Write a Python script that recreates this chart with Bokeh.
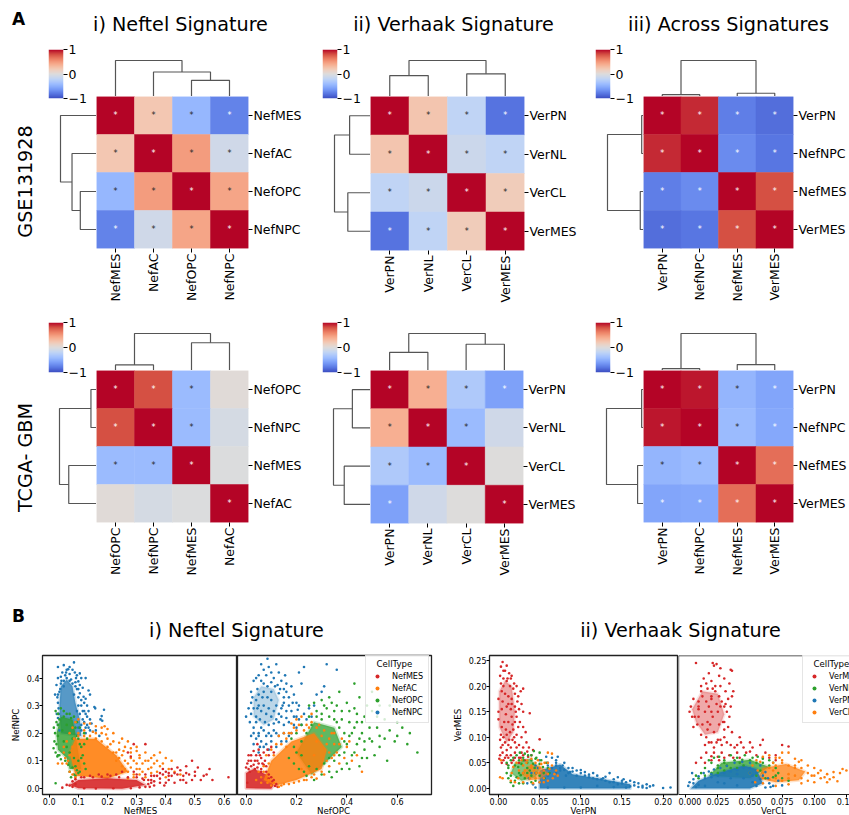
import numpy as np
from math import pi
from bokeh.plotting import figure
from bokeh.layouts import column, row
from bokeh.models import (FactorRange, Range1d, ColumnDataSource, LinearColorMapper, FixedTicker,
                          NumeralTickFormatter, Legend, LegendItem, Span)
from bokeh.transform import transform
from bokeh.core.properties import value
from bokeh.embed import file_html
from bokeh.resources import INLINE

FONT = "DejaVu Sans"

# ---------- heatmap data ----------
LABELS_A1 = ["NefMES", "NefAC", "NefOPC", "NefNPC"]
VALUES_A1 = [[1, .22, -.44, -.74], [.22, 1, .48, -.10], [-.44, .48, 1, .43], [-.74, -.10, .43, 1]]
SIG_A1 = [[1, 1, 1, 1], [1, 1, 1, 1], [1, 1, 1, 1], [1, 1, 1, 1]]
TREE_A1 = [(2.5, 0, 3.5, 0, .45), (1.5, 0, 3.0, .45, .68), (.5, 0, 2.25, .68, 1)]

LABELS_A2 = ["VerPN", "VerNL", "VerCL", "VerMES"]
VALUES_A2 = [[1, .24, -.20, -.82], [.24, 1, -.12, -.20], [-.20, -.12, 1, .18], [-.82, -.20, .18, 1]]
SIG_A2 = [[1, 1, 1, 1], [1, 1, 1, 1], [1, 1, 1, 1], [1, 1, 1, 1]]
TREE_A2 = [(.5, 0, 1.5, 0, .58), (2.5, 0, 3.5, 0, .63), (1.0, .58, 3.0, .63, 1)]

LABELS_A3 = ["VerPN", "NefNPC", "NefMES", "VerMES"]
VALUES_A3 = [[1, .90, -.76, -.84], [.90, 1, -.70, -.80], [-.76, -.70, 1, .80], [-.84, -.80, .80, 1]]
SIG_A3 = [[1, 1, 1, 1], [1, 1, 1, 1], [1, 1, 1, 1], [1, 1, 1, 1]]
TREE_A3 = [(.5, 0, 1.5, 0, .05), (2.5, 0, 3.5, 0, .09), (1.0, .05, 3.0, .09, 1)]

LABELS_B1 = ["NefOPC", "NefNPC", "NefMES", "NefAC"]
VALUES_B1 = [[1, .80, -.42, .03], [.80, 1, -.42, -.06], [-.42, -.42, 1, -.01], [.03, -.06, -.01, 1]]
SIG_B1 = [[1, 1, 1, 0], [1, 1, 1, 0], [1, 1, 1, 0], [0, 0, 0, 1]]
TREE_B1 = [(.5, 0, 1.5, 0, .15), (2.5, 0, 3.5, 0, .75), (1.0, .15, 3.0, .75, 1)]

LABELS_B2 = ["VerPN", "VerNL", "VerCL", "VerMES"]
VALUES_B2 = [[1, .38, -.30, -.58], [.38, 1, -.42, -.10], [-.30, -.42, 1, 0], [-.58, -.10, 0, 1]]
SIG_B2 = [[1, 1, 1, 1], [1, 1, 1, 0], [1, 1, 1, 0], [1, 0, 0, 1]]
TREE_B2 = [(.5, 0, 1.5, 0, .49), (2.5, 0, 3.5, 0, .71), (1.0, .49, 3.0, .71, 1)]

LABELS_B3 = ["VerPN", "NefNPC", "NefMES", "VerMES"]
VALUES_B3 = [[1, .95, -.46, -.56], [.95, 1, -.42, -.54], [-.46, -.42, 1, .68], [-.56, -.54, .68, 1]]
SIG_B3 = [[1, 1, 1, 1], [1, 1, 1, 1], [1, 1, 1, 1], [1, 1, 1, 1]]
TREE_B3 = [(.5, 0, 1.5, 0, .05), (2.5, 0, 3.5, 0, .16), (1.0, .05, 3.0, .16, 1)]

COLUMN_TITLES = ["i) Neftel Signature", "ii) Verhaak Signature", "iii) Across Signatures"]
BOTTOM_TITLES = ["i) Neftel Signature", "ii) Verhaak Signature"]
ROW_TITLES = ["GSE131928", "TCGA- GBM"]

RED, ORANGE, GREEN, BLUE = "#d62728", "#ff7f0e", "#2ca02c", "#1f77b4"

# ---------- scatter data ----------
# dense cores are traced outlines, sparse points are read one by one
P1_NPC_CORE = [(.04, .2), (.035, .3), (.04, .37), (.06, .395), (.08, .37), (.09, .31), (.105, .25), (.11, .19)]
P1_NPC = [(.02, .34), (.03, .44), (.05, .447), (.085, .457), (.06, .43), (.065, .432), (.07, .415), (.088, .42), (.105, .417), (.11, .40), (.125, .40), (.1, .388), (.115, .365), (.135, .355), (.14, .34), (.118, .332), (.155, .295), (.158, .29), (.188, .285), (.18, .262), (.176, .25), (.182, .245), (.13, .30), (.14, .25), (.135, .22), (.15, .205), (.16, .21), (.172, .19), (.03, .4), (.025, .375), (.04, .405), (.045, .42), (.055, .41), (.075, .395), (.09, .385), (.095, .36), (.105, .345), (.11, .32), (.12, .31), (.115, .28), (.125, .27), (.1, .33), (.028, .33), (.03, .31), (.032, .29), (.035, .35), (.05, .39), (.092, .40), (.07, .44), (.12, .24), (.125, .22), (.115, .25), (.13, .26), (.145, .235), (.03, .255), (.026, .27),
          (.04, .38), (.05, .37), (.06, .40), (.07, .39), (.08, .38), (.09, .37), (.1, .36), (.085, .34), (.1, .3), (.11, .3), (.095, .28), (.105, .27), (.11, .23), (.1, .22), (.12, .28), (.038, .36), (.03, .34), (.033, .27), (.03, .23), (.035, .21), (.13, .23), (.14, .21), (.125, .2), (.11, .21), (.095, .41), (.08, .43), (.058, .42), (.042, .39), (.135, .28), (.125, .325), (.105, .375)]
P1_OPC_CORE = [(.03, .14), (.025, .2), (.04, .26), (.08, .25), (.09, .2), (.1, .13), (.11, .07), (.07, .07), (.06, .11)]
P1_OPC = [(.018, .17), (.02, .2), (.022, .13), (.015, .145), (.025, .24), (.022, .28), (.03, .27), (.04, .29), (.05, .28), (.07, .27), (.085, .26), (.095, .24), (.105, .22), (.1, .18), (.11, .15), (.115, .12), (.12, .09), (.1, .055), (.085, .05), (.07, .06), (.065, .085), (.055, .1), (.04, .105), (.035, .12), (.022, .018), (.12, .2), (.075, .04), (.09, .045), (.105, .06), (.125, .07), (.13, .18), (.12, .16), (.016, .22), (.028, .115),
          (.03, .12), (.025, .16), (.03, .19), (.03, .23), (.035, .25), (.05, .26), (.06, .27), (.075, .255), (.09, .22), (.095, .19), (.105, .16), (.11, .11), (.1, .1), (.09, .08), (.08, .075), (.095, .065), (.085, .11), (.07, .13), (.06, .15), (.05, .17), (.045, .21), (.07, .2), (.08, .18), (.06, .23)]
P1_AC_CORE = [(.07, .13), (.09, .18), (.16, .18), (.23, .12), (.27, .06), (.2, .035), (.09, .045)]
P1_AC = [(.03, .09), (.045, .09), (.06, .09), (.05, .13), (.06, .17), (.07, .2), (.08, .22), (.09, .24), (.1, .25), (.12, .235), (.14, .235), (.16, .225), (.18, .22), (.2, .215), (.195, .195), (.22, .17), (.24, .165), (.26, .15), (.28, .145), (.3, .135), (.33, .13), (.36, .12), (.38, .13), (.4, .11), (.42, .1), (.41, .07), (.38, .08), (.36, .09), (.34, .07), (.32, .06), (.3, .09), (.28, .075), (.35, .055), (.33, .04), (.31, .05), (.43, .06), (.45, .05), (.4, .04), (.25, .12), (.23, .13), (.26, .1), (.28, .11), (.24, .14), (.21, .16), (.18, .2), (.15, .205), (.12, .21), (.1, .2), (.255, .135), (.27, .09), (.29, .1), (.32, .09), (.34, .1), (.37, .06), (.3, .07), (.31, .11), (.35, .075),
         (.07, .12), (.08, .15), (.085, .18), (.1, .19), (.12, .19), (.14, .19), (.16, .18), (.18, .17), (.2, .15), (.22, .13), (.24, .11), (.25, .08), (.27, .06), (.29, .05), (.31, .07), (.26, .07), (.23, .1), (.07, .06), (.08, .05), (.09, .04), (.065, .1), (.055, .11), (.05, .15), (.2, .18), (.22, .2), (.25, .18), (.27, .17), (.3, .15), (.19, .225), (.16, .2), (.28, .13), (.33, .1), (.35, .11), (.37, .1), (.39, .09), (.31, .12), (.29, .04), (.27, .035)]
P1_MES_CORE = [(.07, .012), (.1, .03), (.2, .036), (.3, .03), (.33, .012), (.25, -.002), (.1, 0)]
P1_MES = [(.615, .04), (.56, .03), (.55, .07), (.54, .05), (.53, .045), (.52, .03), (.51, .075), (.5, .06), (.49, .1), (.48, .05), (.47, .08), (.46, .03), (.45, .065), (.44, .05), (.43, .02), (.42, .07), (.41, .03), (.4, .06), (.395, .01), (.39, .05), (.38, .02), (.37, .045), (.36, .01), (.35, .03), (.34, .015), (.43, .055), (.47, .055), (.3, .05), (.29, .06), (.27, .13), (.29, .16), (.33, .16), (.28, .115), (.25, .06), (.23, .05), (.2, .05), (.17, .05), (.14, .045), (.11, .04), (.09, .015), (.07, .01), (.045, .002), (.33, .005), (.49, .03), (.41, .045), (.44, .075), (.38, .035), (.36, .045), (.35, .02), (.325, .03), (.46, .045), (.4, .02),
          (.08, .025), (.09, .033), (.12, .04), (.15, .04), (.18, .042), (.21, .045), (.24, .04), (.27, .04), (.3, .04), (.32, .035), (.34, .03), (.345, .005), (.31, .003), (.28, .0), (.22, .0), (.16, -.001), (.12, 0), (.08, .005), (.06, .012), (.36, .025), (.38, .055), (.42, .045), (.45, .03), (.47, .02), (.5, .045), (.39, .07), (.41, .055), (.35, .045), (.33, .05)]

P2_NPC_CORE = [(.03, .26), (.03, .33), (.06, .37), (.11, .36), (.13, .32), (.11, .25), (.07, .23)]
P2_NPC = [(.085, .47), (.12, .45), (.06, .45), (.07, .43), (.09, .44), (.1, .42), (.05, .41), (.03, .39), (.04, .4), (.06, .39), (.08, .41), (.11, .4), (.13, .42), (.14, .39), (.155, .41), (.23, .44), (.21, .42), (.22, .38), (.16, .38), (.18, .37), (.15, .36), (.17, .33), (.19, .34), (.2, .31), (.15, .31), (.16, .28), (.18, .28), (.2, .26), (.14, .26), (.13, .24), (.15, .23), (.17, .24), (.19, .23), (.21, .25), (.23, .27), (.25, .29), (.27, .3), (.28, .34), (.3, .35), (.32, .45), (.36, .43), (.31, .37), (.02, .35), (.01, .29), (.0, .26), (.02, .27), (.015, .24), (.03, .22), (.05, .2), (.07, .21), (.09, .2), (.11, .21), (.13, .19), (.15, .2), (.1, .17), (.08, .16), (.06, .17), (.04, .18), (.02, .19), (.055, .15), (.12, .15), (.16, .17), (.02, .31), (.025, .33), (.13, .345), (.145, .3), (.16, .255), (.18, .2), (.2, .22), (.22, .23), (.24, .25), (.26, .26), (.125, .375), (.1, .385), (.07, .38), (.045, .36), (.17, .3), (.185, .31), (.205, .285),
          (.05, .3), (.06, .28), (.07, .3), (.08, .27), (.09, .29), (.1, .26), (.11, .28), (.12, .3), (.1, .32), (.085, .33), (.07, .35), (.05, .34), (.04, .32), (.03, .29), (.04, .26), (.055, .25), (.075, .24), (.09, .23), (.11, .235), (.12, .25), (.13, .27), (.14, .29), (.15, .33), (.135, .36), (.115, .37), (.1, .35), (.085, .37), (.065, .33), (.045, .29), (.06, .22), (.1, .19), (.14, .17), (.17, .19), (.19, .26), (.21, .3), (.16, .35), (.08, .19), (.04, .24), (.03, .2), (.05, .19), (.12, .2), (.03, .16), (.07, .15), (.05, .13), (.09, .14)]
P2_MES_CORE = [(0, 0), (0, .055), (.03, .07), (.08, .05), (.11, .012), (.1, -.002)]
P2_MES = [(.0, .075), (.005, .09), (.01, .07), (.02, .1), (.03, .085), (.04, .12), (.05, .09), (.06, .07), (.07, .085), (.08, .06), (.09, .05), (.1, .04), (.11, .03), (.12, .015), (.03, .135), (.05, .14), (.06, .11), (.075, .1), (.09, .12), (.1, .15), (.085, .14), (.015, .06), (.045, .075), (.125, .005),
          (.005, .02), (.01, .1), (.02, .08), (.035, .1), (.045, .1), (.055, .12), (.065, .09), (.08, .08), (.035, .07), (.06, .06), (.09, .035), (.105, .025), (.115, .008), (.07, .13), (.02, .12), (.01, .12), (.11, .13), (.045, .16)]
P2_AC_CORE = [(.07, .03), (.1, .1), (.18, .17), (.27, .2), (.32, .14), (.3, .07), (.2, .03), (.12, .01)]
P2_AC = [(.04, .03), (.05, .06), (.07, .08), (.08, .12), (.1, .14), (.12, .16), (.13, .19), (.15, .2), (.17, .2), (.19, .22), (.21, .23), (.24, .23), (.22, .26), (.26, .24), (.29, .23), (.31, .21), (.33, .18), (.35, .16), (.36, .13), (.34, .11), (.33, .08), (.31, .05), (.27, .05), (.23, .03), (.19, .02), (.15, .015), (.13, .005), (.1, .01), (.09, .03), (.38, .18), (.4, .15), (.42, .1), (.37, .09), (.26, .27), (.2, .25), (.24, .03), (.28, .035), (.35, .2), (.18, .235),
         (.06, .04), (.07, .06), (.09, .09), (.11, .12), (.14, .16), (.16, .18), (.2, .21), (.23, .21), (.28, .22), (.3, .19), (.32, .16), (.33, .13), (.32, .1), (.3, .06), (.26, .04), (.21, .025), (.17, .015), (.14, .01), (.11, .02), (.085, .02), (.06, .02), (.18, .2), (.16, .15), (.25, .22), (.28, .17), (.22, .07), (.27, .12), (.35, .12), (.37, .16), (.34, .2), (.39, .11), (.41, .17), (.44, .12), (.46, .06)]
P2_OPC_CORE = [(.2, .13), (.27, .24), (.35, .22), (.38, .15), (.3, .08), (.26, .05), (.23, .09)]
P2_OPC = [(.43, .38), (.45, .33), (.5, .35), (.37, .35), (.4, .31), (.33, .33), (.3, .32), (.27, .31), (.25, .3), (.28, .28), (.32, .29), (.35, .28), (.38, .28), (.41, .28), (.44, .27), (.47, .26), (.5, .28), (.53, .3), (.57, .3), (.6, .24), (.65, .2), (.69, .27), (.68, .13), (.64, .16), (.62, .22), (.6, .19), (.57, .21), (.55, .25), (.52, .22), (.49, .22), (.46, .2), (.43, .22), (.41, .19), (.44, .16), (.47, .14), (.5, .17), (.53, .15), (.56, .1), (.59, .17), (.48, .11), (.45, .08), (.42, .12), (.4, .09), (.38, .07), (.36, .06), (.33, .06), (.3, .05), (.27, .03), (.24, .045), (.21, .07), (.19, .09), (.17, .11), (.35, .25), (.3, .25), (.25, .26), (.41, .24), (.37, .22), (.39, .13), (.34, .04), (.46, .24), (.52, .26), (.48, .3), (.43, .29), (.55, .18), (.51, .12), (.61, .28),
          (.2, .13), (.22, .17), (.24, .2), (.26, .23), (.3, .27), (.33, .26), (.36, .24), (.39, .2), (.39, .17), (.37, .12), (.35, .1), (.33, .11), (.31, .09), (.28, .07), (.25, .08), (.23, .06), (.22, .12), (.19, .15), (.18, .18), (.2, .2), (.22, .23), (.42, .2), (.44, .24), (.38, .25), (.36, .3), (.34, .31), (.31, .3), (.28, .26), (.4, .16), (.43, .13), (.45, .18), (.49, .18), (.53, .19), (.47, .17), (.46, .11), (.41, .07)]

P3_MES_CORE = [(.001, .12), (.001, .19), (.008, .21), (.016, .2), (.02, .15), (.018, .11), (.01, .09)]
P3_MES = [(.005, .247), (.01, .24), (.003, .238), (.008, .23), (.013, .225), (.002, .22), (.016, .22), (.006, .215), (.019, .205), (.022, .2), (.03, .195), (.027, .19), (.024, .18), (.02, .185), (.023, .17), (.028, .165), (.025, .155), (.038, .147), (.03, .15), (.022, .14), (.026, .13), (.024, .12), (.03, .12), (.033, .11), (.022, .105), (.028, .1), (.05, .096), (.034, .09), (.02, .09), (.025, .085), (.03, .08), (.037, .08), (.015, .08), (.01, .075), (.005, .07), (.002, .065), (.02, .07), (.028, .07), (.035, .072), (.042, .075), (.001, .058), (.006, .055), (.012, .06), (.018, .055), (.025, .06), (.032, .055), (.04, .065), (.002, .095), (.003, .08), (.006, .1), (.012, .085), (.0, .15), (.0, .175), (.0, .135), (.015, .215), (.006, .2), (.012, .165), (.017, .125), (.01, .105), (.009, .145),
          (.004, .19), (.008, .185), (.012, .18), (.016, .175), (.005, .17), (.01, .16), (.015, .155), (.02, .16), (.004, .155), (.007, .13), (.012, .13), (.016, .14), (.02, .13), (.004, .12), (.009, .115), (.014, .11), (.018, .115), (.003, .105), (.008, .09), (.013, .095), (.017, .095), (.003, .205), (.01, .21), (.014, .2), (.018, .195), (.006, .23), (.011, .215), (.016, .165), (.021, .15), (.019, .1), (.005, .085), (.01, .065), (.015, .065), (.008, .06), (.022, .08), (.027, .06), (.03, .065), (.02, .06), (.036, .062), (.016, .05), (.01, .048), (.004, .05), (.025, .05)]
P3_NPC_CORE = [(.05, .0), (.05, .035), (.075, .047), (.09, .028), (.12, .02), (.16, .008), (.16, 0)]
P3_NPC = [(.209, .002), (.188, .006), (.184, .004), (.18, .008), (.175, .005), (.17, .01), (.165, .012), (.17, .003), (.16, .015), (.152, .018), (.145, .022), (.14, .012), (.135, .03), (.127, .02), (.12, .025), (.115, .03), (.11, .027), (.105, .032), (.1, .03), (.095, .035), (.09, .033), (.085, .04), (.087, .032), (.08, .05), (.078, .045), (.07, .055), (.065, .06), (.072, .062), (.058, .062), (.05, .055), (.045, .045), (.04, .03), (.037, .02), (.035, .01), (.042, .008), (.13, .015), (.15, .01), (.2, .001), (.18, .001), (.06, .045), (.075, .035), (.082, .025), (.07, .045),
          (.06, .05), (.07, .05), (.075, .04), (.085, .03), (.095, .025), (.105, .025), (.115, .02), (.125, .018), (.135, .012), (.145, .008), (.155, .012), (.165, .006), (.175, .002), (.16, .004), (.055, .02), (.05, .012), (.045, .03), (.048, .04), (.055, .035), (.065, .04), (.08, .036), (.09, .04), (.1, .036), (.11, .022), (.12, .018), (.13, .023), (.14, .018), (.15, .015), (.155, .002), (.14, .003), (.12, .005), (.1, .002), (.08, .002), (.06, .002), (.045, .002), (.07, .03), (.06, .025)]
P3_OPC_CORE = [(.015, .03), (.02, .05), (.038, .058), (.05, .04), (.045, .022), (.028, .015)]
P3_OPC = [(.01, .05), (.012, .04), (.015, .055), (.018, .06), (.022, .065), (.026, .07), (.032, .068), (.036, .065), (.04, .065), (.046, .06), (.052, .055), (.058, .05), (.06, .04), (.055, .03), (.05, .025), (.045, .015), (.04, .012), (.03, .01), (.025, .01), (.02, .015), (.018, .005), (.012, .02), (.015, .012), (.01, .03), (.024, .042), (.03, .055), (.042, .048), (.035, .03), (.027, .026), (.05, .07), (.043, .073),
          (.02, .045), (.025, .055), (.03, .06), (.035, .05), (.04, .055), (.044, .04), (.05, .048), (.054, .042), (.025, .03), (.03, .03), (.035, .04), (.04, .025), (.032, .02), (.022, .022), (.028, .048), (.046, .03), (.056, .02), (.062, .03), (.015, .025), (.012, .045), (.045, .058), (.038, .035)]
P3_AC_CORE = [(.028, .028), (.036, .044), (.05, .045), (.06, .03), (.05, .018), (.037, .016)]
P3_AC = [(.003, .055), (.002, .022), (.005, .02), (.016, .03), (.018, .042), (.022, .05), (.028, .055), (.034, .05), (.04, .058), (.048, .055), (.056, .05), (.065, .045), (.07, .035), (.072, .025), (.066, .02), (.06, .015), (.055, .012), (.05, .012), (.042, .01), (.03, .012), (.024, .02), (.02, .012), (.015, .015), (.06, .07), (.065, .068), (.04, .04), (.032, .035), (.046, .03),
         (.03, .045), (.035, .055), (.04, .045), (.045, .05), (.05, .04), (.055, .035), (.06, .028), (.055, .02), (.045, .02), (.035, .025), (.03, .03), (.025, .035), (.038, .02), (.05, .03), (.043, .035), (.062, .038), (.068, .028), (.06, .05), (.052, .048)]

P4_MES_CORE = [(.008, .13), (.005, .155), (.013, .19), (.025, .185), (.03, .145), (.025, .11), (.015, .105)]
P4_MES = [(.008, .245), (.021, .245), (.022, .24), (.024, .243), (.027, .235), (.035, .232), (.036, .23), (.018, .225), (.026, .22), (.03, .215), (.014, .215), (.02, .21), (.034, .205), (.036, .18), (.037, .19), (.033, .175), (.035, .16), (.031, .165), (.012, .2), (.006, .175), (.004, .16), (.003, .15), (.007, .14), (.01, .17), (.006, .12), (.012, .105), (.016, .1), (.02, .09), (.024, .09), (.03, .1), (.033, .12), (.036, .11), (.028, .085), (.035, .085), (.042, .1), (.043, .09), (.05, .09), (.052, .08), (.058, .085), (.06, .095), (.047, .07), (.04, .07), (.034, .065), (.028, .07), (.022, .07), (.016, .07), (.012, .06), (.008, .05), (.015, .05), (.02, .055), (.026, .055), (.055, .065), (.062, .07), (.065, .06), (.07, .055), (.075, .085), (.08, .082), (.038, .08), (.03, .13), (.032, .15), (.023, .2), (.016, .205), (.01, .155), (.02, .175), (.027, .16), (.019, .125), (.025, .095),
          (.01, .16), (.013, .18), (.016, .17), (.02, .18), (.023, .19), (.026, .18), (.028, .17), (.03, .16), (.025, .15), (.02, .15), (.015, .15), (.01, .14), (.013, .125), (.017, .13), (.021, .14), (.026, .125), (.029, .13), (.012, .19), (.017, .195), (.021, .195), (.027, .2), (.031, .19), (.034, .14), (.03, .115), (.022, .11), (.017, .115), (.009, .125), (.005, .14), (.018, .16), (.024, .165), (.015, .085), (.018, .09), (.022, .08), (.027, .095), (.032, .09), (.04, .085), (.045, .08), (.05, .072), (.037, .06), (.042, .06), (.03, .06), (.025, .062), (.02, .063), (.06, .06), (.07, .065)]
P4_OPC_CORE = [(.018, .025), (.028, .05), (.05, .056), (.065, .042), (.05, .02)]
P4_OPC = [(.012, .03), (.015, .04), (.02, .05), (.018, .055), (.022, .06), (.03, .055), (.035, .065), (.04, .06), (.046, .065), (.052, .06), (.056, .062), (.06, .058), (.065, .055), (.068, .05), (.07, .04), (.072, .03), (.068, .022), (.075, .02), (.08, .015), (.01, .02), (.008, .025), (.026, .062), (.032, .045), (.042, .05), (.025, .04), (.06, .03),
          (.025, .045), (.03, .05), (.038, .055), (.044, .056), (.05, .055), (.055, .05), (.06, .05), (.065, .045), (.058, .035), (.05, .03), (.015, .025), (.02, .03), (.025, .03), (.03, .035), (.035, .04), (.04, .04), (.045, .045), (.07, .025), (.062, .02), (.055, .025)]
P4_NPC_CORE = [(.004, 0), (.01, .015), (.025, .03), (.045, .045), (.055, .038), (.06, .01), (.05, 0)]
P4_NPC = [(.002, .005), (.003, .012), (.006, .018), (.01, .024), (.014, .03), (.018, .033), (.022, .037), (.027, .04), (.032, .044), (.038, .05), (.044, .052), (.05, .05), (.058, .045), (.062, .032), (.064, .02), (.065, .01), (.068, .005), (.072, .015), (.075, .006), (.062, .002), (.005, .03), (.02, .028), (.06, .025), (.052, .025),
          (.015, .02), (.02, .022), (.025, .025), (.03, .03), (.035, .033), (.04, .036), (.045, .04), (.05, .04), (.055, .03), (.058, .018), (.052, .012), (.045, .02), (.035, .02), (.025, .012), (.015, .005), (.01, .007), (.008, .003), (.006, .01), (.04, .028), (.05, .03), (.03, .01), (.04, .006), (.055, .005), (.066, .003)]
P4_AC_CORE = [(.056, .02), (.06, .04), (.078, .048), (.093, .033), (.088, .016), (.07, .012)]
P4_AC = [(.05, .03), (.052, .045), (.055, .055), (.06, .062), (.065, .065), (.07, .06), (.075, .07), (.08, .07), (.085, .058), (.09, .055), (.095, .045), (.1, .04), (.103, .03), (.098, .025), (.105, .02), (.11, .028), (.115, .032), (.12, .03), (.112, .018), (.125, .035), (.095, .015), (.09, .01), (.08, .008), (.07, .005), (.06, .01), (.054, .012), (.075, .055), (.085, .045), (.068, .035), (.08, .028),
         (.06, .03), (.065, .04), (.07, .045), (.075, .05), (.08, .045), (.085, .04), (.09, .04), (.095, .03), (.09, .02), (.085, .025), (.08, .02), (.075, .015), (.07, .02), (.065, .018), (.06, .02), (.1, .025), (.105, .035), (.108, .022), (.115, .022), (.118, .014), (.122, .038), (.11, .012), (.1, .012), (.088, .052), (.073, .06), (.068, .05), (.058, .052), (.056, .035)]

# ---------- helpers ----------
STOPS = ["#3b4cc0", "#5977e3", "#7b9ff9", "#9ebeff", "#c0d4f5", "#dddcdc", "#f2cbb7", "#f7ac8e", "#ee8468", "#d65244", "#b40426"]
rgb = np.array([[int(s[i:i + 2], 16) for i in (1, 3, 5)] for s in STOPS], dtype=float)
grid = np.linspace(0, 1, 256)
COOLWARM = ["#%02x%02x%02x" % tuple(int(round(np.interp(t, np.linspace(0, 1, 11), rgb[:, c]))) for c in range(3)) for t in grid]
MAPPER = LinearColorMapper(palette=COOLWARM, low=-1, high=1)


def blank(p):
    p.axis.visible = False
    p.grid.visible = False
    p.outline_line_color = None
    p.background_fill_color = None
    p.border_fill_color = None
    return p


def base(w, h, x_range, y_range, l=0, r=0, t=0, b=0, **kw):
    return figure(width=w, height=h, x_range=x_range, y_range=y_range, output_backend="svg", toolbar_location=None,
                  min_border_left=l, min_border_right=r, min_border_top=t, min_border_bottom=b, tools="", **kw)


def colorbar(w, h, left, top, bottom):
    p = base(w, h, Range1d(0, 1), Range1d(-1, 1), l=left, r=w - left - 15, t=top, b=bottom, y_axis_location="right")
    p.image(image=[np.linspace(-1, 1, 256).reshape(256, 1)], x=0, y=-1, dw=1, dh=2, color_mapper=MAPPER)
    p.xaxis.visible = False
    p.grid.visible = False
    p.outline_line_color = None
    ax = p.yaxis[0]
    ax.ticker = FixedTicker(ticks=[-1, 0, 1])
    ax.major_label_overrides = {-1: "\u22121", 0: "0", 1: "1"}
    ax.axis_line_color = None
    ax.major_tick_in = 0
    ax.major_tick_out = 4
    ax.major_tick_line_color = "black"
    ax.minor_tick_line_color = None
    ax.major_label_standoff = 1
    ax.major_label_text_font = FONT
    ax.major_label_text_font_size = "12.5px"
    ax.major_label_text_color = "black"
    return p


def tree_lines(tree):
    pos = [[a, a, b, b] for a, ha, b, hb, h in tree]
    hts = [[ha, h, h, hb] for a, ha, b, hb, h in tree]
    return pos, hts


def block(labels, vals, sig, tree, left_w, right_w, frame, cb_left, cb_h, cb_top, unit, top_h, offs, heat_h):
    cb = colorbar(left_w, cb_h, cb_left, cb_top, 6)
    pos, hts = tree_lines(tree)
    ld_h = heat_h - offs
    bottom = heat_h - frame
    ld = blank(base(left_w, ld_h, Range1d(left_w / unit, 0), Range1d(4, offs / (frame / 4)), b=bottom))
    ld.multi_line(xs=hts, ys=pos, line_color="#555555", line_width=1.2)
    td = blank(base(right_w, top_h, Range1d(0, 4), Range1d(0, top_h / unit), r=right_w - frame))
    td.multi_line(xs=pos, ys=hts, line_color="#555555", line_width=1.2)
    xs, ys, vs, marks, marks_col = [], [], [], [], []
    for i, yl in enumerate(labels):
        for j, xl in enumerate(labels):
            xs.append(xl)
            ys.append(yl)
            vs.append(vals[i][j])
            marks.append("*" if sig[i][j] else "")
            marks_col.append("#ffffff" if abs(vals[i][j]) > .5 else "#262626")
    src = ColumnDataSource(dict(x=xs, y=ys, v=vs, m=marks, c=marks_col))
    h = base(right_w, heat_h, FactorRange(factors=labels), FactorRange(factors=labels[::-1]), r=right_w - frame,
             b=bottom, y_axis_location="right")
    cm = transform("v", MAPPER)
    h.rect(x="x", y="y", width=1, height=1, source=src, fill_color=cm, line_color=cm, line_width=.5)
    h.text(x="x", y="y", text="m", source=src, text_color="c", text_font=value(FONT), text_font_size="8px",
           text_align="center", text_baseline="middle")
    h.grid.visible = False
    h.outline_line_color = None
    for ax in (h.xaxis[0], h.yaxis[0]):
        ax.axis_line_color = None
        ax.major_tick_in = 0
        ax.major_tick_out = 4
        ax.major_tick_line_color = "black"
        ax.minor_tick_line_color = None
        ax.group_text_font_size = "0px"
        ax.major_label_standoff = 1
        ax.major_label_text_font = FONT
        ax.major_label_text_font_size = "12.5px"
        ax.major_label_text_color = "black"
    h.xaxis[0].major_label_orientation = pi / 2
    return column(row(cb), row(ld), spacing=0), column(td, h, spacing=0)


def text_strip(w, h, ybase, items):
    p = blank(base(w, h, Range1d(0, w), Range1d(ybase + h, ybase)))
    for x, y, s, size, style in items:
        p.text(x=[x], y=[y], text=[s], text_font=value(FONT), text_font_size=size, text_font_style=style,
               text_align="center", text_baseline="middle", text_color="black")
    return p


def row_label(h, ytop, ycenter, s):
    p = blank(base(45, h, Range1d(0, 45), Range1d(ytop + h, ytop)))
    p.text(x=[25], y=[ycenter], text=[s], angle=pi / 2, text_font=value(FONT), text_font_size="19.2px",
           text_align="center", text_baseline="middle", text_color="black")
    return p


def xy(points):
    return [a for a, b in points], [b for a, b in points]


def scatter_panel(w, left, right, xr, yr, xticks, xfmt, yticks, yfmt, ylabel, series, legend_at, legend_order, full_outline=True):
    p = base(w, 155, Range1d(*xr), Range1d(*yr), l=left, r=right, t=1, b=15)
    p.grid.visible = False
    for name, color, core, pts, alpha in series:
        p.patch(*xy(core), fill_color=color, fill_alpha=alpha, line_color=color, line_width=3, line_alpha=alpha * .3,
                line_join="round")
    renderers = {}
    for name, color, core, pts, alpha in series:
        renderers[name] = p.scatter(*xy(pts), size=2.6, fill_color=color, line_color=None)
    ax = p.xaxis[0]
    ax.ticker = FixedTicker(ticks=xticks)
    ax.formatter = NumeralTickFormatter(format=xfmt)
    axes = [ax]
    if ylabel:
        ay = p.yaxis[0]
        ay.ticker = FixedTicker(ticks=yticks)
        ay.formatter = NumeralTickFormatter(format=yfmt)
        ay.axis_label = ylabel
        ay.axis_label_standoff = 3
        ay.axis_label_text_font = FONT
        ay.axis_label_text_font_size = "8.7px"
        ay.axis_label_text_font_style = "normal"
        ay.axis_label_text_color = "black"
        axes.append(ay)
    else:
        p.yaxis.visible = False
    for a in axes:
        a.major_tick_in = 0
        a.major_tick_out = 3
        a.minor_tick_line_color = None
        a.major_label_standoff = 0
        a.major_label_text_font = FONT
        a.major_label_text_font_size = "8px"
        a.major_label_text_color = "black"
        a.major_tick_line_color = "black"
        a.axis_line_color = "#222222"
    if full_outline:
        p.outline_line_color = "#222222"
        p.outline_line_width = 1.3
        p.outline_line_alpha = 1
    else:
        p.outline_line_color = None
        p.add_layout(Span(location=yr[1], dimension="width", line_color="#222222", line_width=1.3))
        p.add_layout(Span(location=xr[0], dimension="height", line_color="#222222", line_width=1.3))
    if legend_at:
        leg = Legend(items=[LegendItem(label=n, renderers=[renderers[n]]) for n in legend_order], location=legend_at,
                     title="\u00a0\u00a0CellType", title_text_font=FONT, title_text_font_size="8.6px",
                     title_text_font_style="normal", title_text_color="black", title_standoff=2, label_text_font=FONT,
                     label_text_font_size="8.1px", label_text_color="black", label_height=10, label_width=30,
                     glyph_width=12, glyph_height=10, label_standoff=9, spacing=2, padding=5, margin=0,
                     border_line_color="#cccccc", background_fill_alpha=.8, click_policy="none")
        p.add_layout(leg)
    return p


# ---------- assemble ----------
top = text_strip(849, 40, 0, [(18, 18, "A", "17px", "bold"), (180, 24, COLUMN_TITLES[0], "19.2px", "normal"),
                              (453, 24, COLUMN_TITLES[1], "19.2px", "normal"), (728, 24, COLUMN_TITLES[2], "19.2px", "normal")])

a1l, a1r = block(LABELS_A1, VALUES_A1, SIG_A1, TREE_A1, 51, 224, 152, 3, 64, 9, 36, 56, 8, 216)
a2l, a2r = block(LABELS_A2, VALUES_A2, SIG_A2, TREE_A2, 50, 223, 154, 2, 64, 9, 36, 56, 8, 216)
a3l, a3r = block(LABELS_A3, VALUES_A3, SIG_A3, TREE_A3, 50, 206, 152, 2, 64, 9, 36, 56, 8, 216)
row_a = row(row_label(272, 40, 181, ROW_TITLES[0]), a1l, a1r, a2l, a2r, a3l, a3r, spacing=0)

b1l, b1r = block(LABELS_B1, VALUES_B1, SIG_B1, TREE_B1, 51, 224, 152, 3, 66, 10, 37, 58, 8, 220)
b2l, b2r = block(LABELS_B2, VALUES_B2, SIG_B2, TREE_B2, 50, 223, 153, 2, 66, 10, 37, 58, 8, 220)
b3l, b3r = block(LABELS_B3, VALUES_B3, SIG_B3, TREE_B3, 50, 206, 152, 2, 66, 10, 37, 58, 8, 220)
row_b = row(row_label(278, 312, 457, ROW_TITLES[1]), b1l, b1r, b2l, b2r, b3l, b3r, spacing=0)

mid = text_strip(849, 64, 590, [(18, 615, "B", "17px", "bold"), (236, 630, BOTTOM_TITLES[0], "19.2px", "normal"),
                                (680, 630, BOTTOM_TITLES[1], "19.2px", "normal")])

NEF_ORDER = ["NefMES", "NefAC", "NefOPC", "NefNPC"]
VER_ORDER = ["VerMES", "VerNL", "VerPN", "VerCL"]
s1 = scatter_panel(237, 42, 0, (-.023, .646), (-.0228, .482), [0, .1, .2, .3, .4, .5, .6], "0.0", [0, .1, .2, .3, .4], "0.0",
                   "NefNPC",
                   [("NefNPC", BLUE, P1_NPC_CORE, P1_NPC, .75), ("NefOPC", GREEN, P1_OPC_CORE, P1_OPC, .8),
                    ("NefAC", ORANGE, P1_AC_CORE, P1_AC, .9), ("NefMES", RED, P1_MES_CORE, P1_MES, .9)], None, NEF_ORDER)
s2 = scatter_panel(203, 0, 9, (-.034, .736), (-.0228, .482), [0, .2, .4, .6], "0.0", None, None,
                   None,
                   [("NefNPC", BLUE, P2_NPC_CORE, P2_NPC, .3), ("NefMES", RED, P2_MES_CORE, P2_MES, .9),
                    ("NefOPC", GREEN, P2_OPC_CORE, P2_OPC, .75), ("NefAC", ORANGE, P2_AC_CORE, P2_AC, .85)], (128, 71), NEF_ORDER)
s3 = scatter_panel(238, 49, 0, (-.0109, .2187), (-.0118, .2598), [0, .05, .1, .15, .2], "0.00", [0, .05, .1, .15, .2, .25], "0.00",
                   "VerMES",
                   [("VerMES", RED, P3_MES_CORE, P3_MES, .4), ("VerPN", BLUE, P3_NPC_CORE, P3_NPC, .9),
                    ("VerNL", GREEN, P3_OPC_CORE, P3_OPC, .6), ("VerCL", ORANGE, P3_AC_CORE, P3_AC, .6)], None, VER_ORDER)
s4 = scatter_panel(171, 0, 0, (-.0056, .1274), (-.0118, .2598), [0, .025, .05, .075, .1, .125], "0.000", None, None,
                   None,
                   [("VerMES", RED, P4_MES_CORE, P4_MES, .4), ("VerNL", GREEN, P4_OPC_CORE, P4_OPC, .75),
                    ("VerCL", ORANGE, P4_AC_CORE, P4_AC, .75), ("VerPN", BLUE, P4_NPC_CORE, P4_NPC, .9)], (124, 71), VER_ORDER, full_outline=False)
s4.xaxis[0].major_label_overrides = {0.125: "0.1"}
row_s = row(s1, s2, s3, s4, spacing=0)

xlabels = text_strip(849, 16, 799, [(140, 810.5, "NefMES", "8.7px", "normal"), (333, 810.5, "NefOPC", "8.7px", "normal"),
                                    (583, 810.5, "VerPN", "8.7px", "normal"), (773, 810.5, "VerCL", "8.7px", "normal")])
xlabels.margin = (-10, 0, 0, 0)

page = column(top, row_a, row_b, mid, row_s, xlabels, spacing=0)
open("out.html", "w").write(file_html(page, INLINE))
